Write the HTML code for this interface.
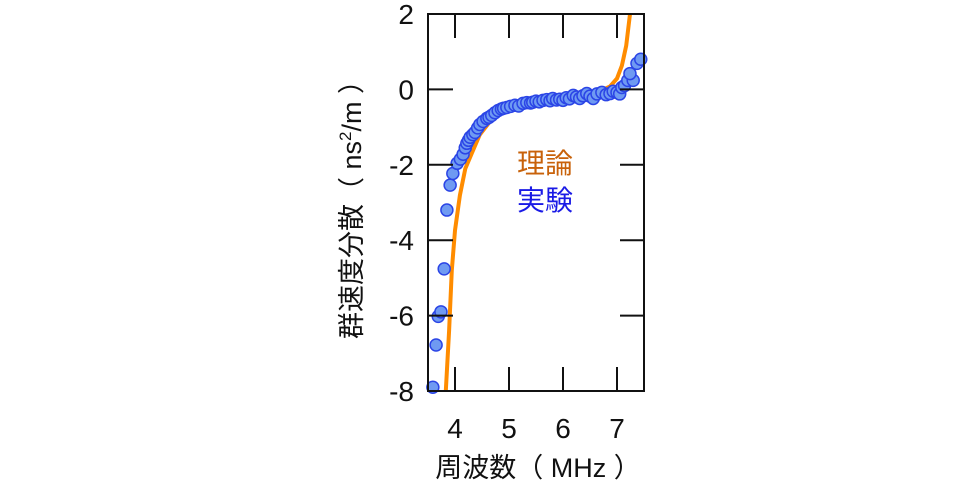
<!DOCTYPE html>
<html><head><meta charset="utf-8"><style>
html,body{margin:0;padding:0;background:#fff;}
svg{display:block;font-family:"Liberation Sans","Noto Sans CJK JP",sans-serif;}
</style></head><body>
<svg id="chart" width="980" height="485" viewBox="0 0 980 485" xmlns="http://www.w3.org/2000/svg"></svg>
<script>
const xTicks=[4,5,6,7];
const yTicks=[2,0,-2,-4,-6,-8];
const expX=[3.59,3.65,3.69,3.74,3.8,3.85,3.91,3.96,4.04,4.1,4.15,4.19,4.22,4.25,4.28,4.33,4.37,4.42,4.46,4.52,4.59,4.63,4.68,4.74,4.8,4.86,4.9,4.96,5.03,5.11,5.18,5.26,5.33,5.4,5.44,5.5,5.56,5.63,5.7,5.76,5.81,5.88,5.94,6.0,6.06,6.12,6.19,6.25,6.31,6.37,6.44,6.5,6.56,6.63,6.72,6.8,6.87,6.93,7.0,7.05,7.09,7.14,7.2,7.3,7.24,7.37,7.44];
const expY=[-7.9,-6.78,-6.02,-5.9,-4.76,-3.2,-2.54,-2.23,-1.96,-1.85,-1.72,-1.55,-1.43,-1.35,-1.27,-1.2,-1.14,-1.02,-0.93,-0.85,-0.77,-0.74,-0.69,-0.62,-0.56,-0.52,-0.5,-0.48,-0.45,-0.42,-0.44,-0.37,-0.35,-0.36,-0.34,-0.31,-0.33,-0.29,-0.27,-0.3,-0.24,-0.28,-0.26,-0.29,-0.22,-0.25,-0.16,-0.2,-0.24,-0.17,-0.11,-0.18,-0.24,-0.12,-0.08,-0.14,-0.11,-0.05,-0.08,-0.12,0.05,0.1,0.24,0.24,0.42,0.69,0.8];
const theoX=[3.83,3.89,3.94,4.0,4.09,4.19,4.31,4.46,4.65,4.92,5.3,5.76,6.22,6.68,6.87,7.0,7.09,7.17,7.24];
const theoY=[-8,-6.4,-4.8,-3.74,-2.81,-2.1,-1.7,-1.2,-0.85,-0.58,-0.4,-0.29,-0.19,-0.05,0.08,0.29,0.63,1.16,2];
const L=428,R=644,T=14,B=391,x0=3.5,x1=7.5,y0=-8,y1=2;
const sx=v=>L+(v-x0)/(x1-x0)*(R-L);
const sy=v=>B-(v-y0)/(y1-y0)*(B-T);
const svg=document.getElementById('chart');
const NS='http://www.w3.org/2000/svg';
function mk(tag,at,parent){const e=document.createElementNS(NS,tag);for(const k in at)e.setAttribute(k,at[k]);(parent||svg).appendChild(e);return e;}
const pts=theoX.map((x,i)=>sx(x).toFixed(1)+','+sy(theoY[i]).toFixed(1)).join(' ');
const clip=mk('clipPath',{id:'pc'});mk('rect',{x:L,y:T,width:R-L,height:B-T},clip);
const tl=mk('polyline',{points:pts,fill:'none',stroke:'#ff8c00','stroke-width':4,'stroke-linejoin':'round','clip-path':'url(#pc)'});


expX.forEach((x,i)=>{
 const c=mk('circle',{cx:sx(x),cy:sy(expY[i]),r:6,fill:'#6f9af2',stroke:'#2b45e6','stroke-width':1.5});
 
 
});
const fr=mk('rect',{x:L,y:T,width:R-L,height:B-T,fill:'none',stroke:'#111','stroke-width':2});


xTicks.forEach(v=>{
 const x=sx(v);
 const a=mk('line',{x1:x,y1:B,x2:x,y2:B-24,stroke:'#111','stroke-width':2});
 
 
 const b=mk('line',{x1:x,y1:T,x2:x,y2:T+24,stroke:'#111','stroke-width':2});
 
 
 const t=mk('text',{x:x,y:438,'text-anchor':'middle','font-size':28,fill:'#111'});t.textContent=v;
 
 
});
yTicks.forEach(v=>{
 const y=sy(v);
 const a=mk('line',{x1:L,y1:y,x2:L+25,y2:y,stroke:'#111','stroke-width':2});
 
 
 const b=mk('line',{x1:R-24,y1:y,x2:R,y2:y,stroke:'#111','stroke-width':2});
 
 
 const t=mk('text',{x:414,y:y+10,'text-anchor':'end','font-size':28,fill:'#111'});t.textContent=v;
 
 
});
const xt=mk('text',{x:538,y:477,'text-anchor':'middle','font-size':27,fill:'#111'});xt.textContent='周波数（ MHz ）';


const yt=mk('text',{x:0,y:0,'text-anchor':'middle','font-size':27,fill:'#111',transform:'translate(361,203) rotate(-90)'});
yt.innerHTML='群速度分散（ ns<tspan dy="-10" font-size="17">2</tspan><tspan dy="10">/m ）</tspan>';


const l1=mk('text',{x:545,y:173,'text-anchor':'middle','font-size':28,fill:'#c8620a'});l1.textContent='理論';


const l2=mk('text',{x:545,y:210,'text-anchor':'middle','font-size':28,fill:'#1a1ae6'});l2.textContent='実験';


</script>
</body></html>
